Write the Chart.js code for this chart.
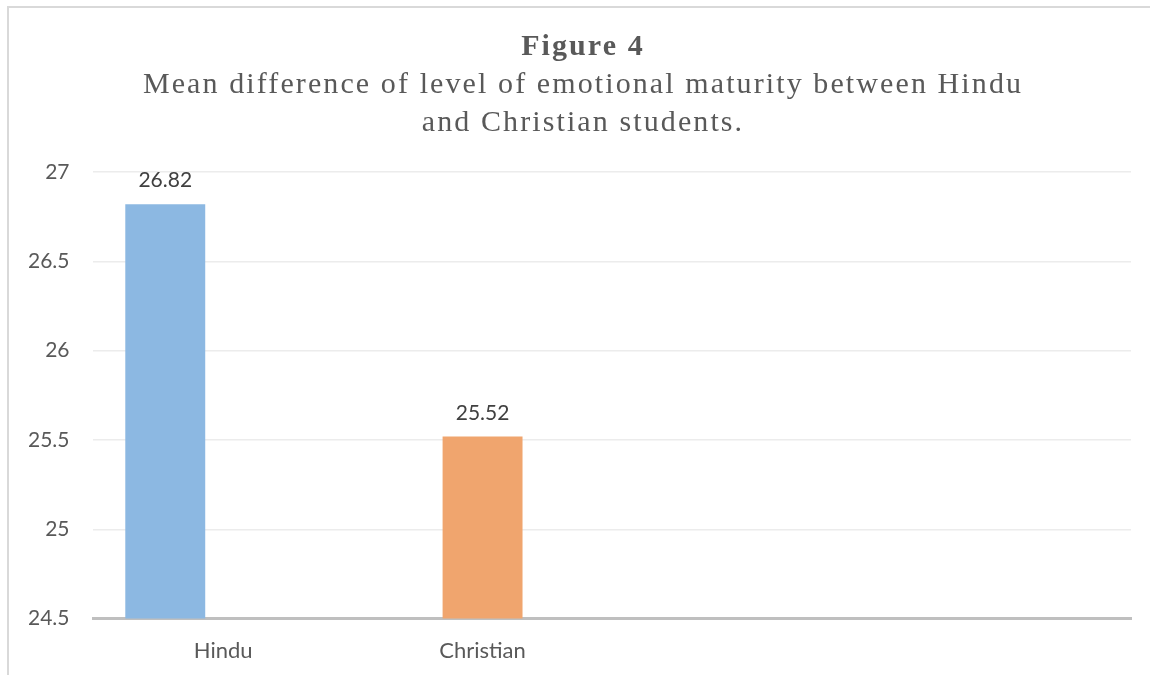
<!DOCTYPE html>
<html>
<head>
<meta charset="utf-8">
<script src="https://cdn.jsdelivr.net/npm/chart.js@4.4.1/dist/chart.umd.min.js"></script>
<style>
    html, body { margin: 0; padding: 0; background: #fff; }
    #frame {
        position: absolute; left: 7px; top: 6px; width: 1150px; height: 675px;
        border-top: 2px solid #d9d9d9; border-left: 2px solid #d9d9d9;
    }
    #heading {
        position: absolute; left: 8px; top: 26px; width: 1150px;
        text-align: center; font-family: "Liberation Serif", "Times New Roman", serif;
        color: #595959; font-size: 30px; line-height: 38px; letter-spacing: 2.1px;
    }
    #heading b { display: block; }
    #wrap { position: absolute; left: 0; top: 0; width: 1150px; height: 675px; }
</style>
</head>
<body>
<div id="frame"></div>
<div id="wrap"><canvas id="chart"></canvas></div>
<div id="heading"><b>Figure 4</b>Mean difference of level of emotional maturity between Hindu<br>and Christian students.</div>
<script>
const categories = ['Hindu', 'Christian', '', ''];
const hinduMeans = [26.82, null, null, null];
const christianMeans = [null, 25.52, null, null];
const emptySeries = [null, null, null, null];
const yTicks = [24.5, 25, 25.5, 26, 26.5, 27];

const labelFont = { family: 'Lato, "Open Sans", sans-serif', size: 21 };

// value labels above each bar
const valueLabels = {
    id: 'valueLabels',
    afterDatasetsDraw(chart) {
        const ctx = chart.ctx;
        ctx.save();
        ctx.font = `${labelFont.size}px ${labelFont.family}`;
        ctx.fillStyle = '#404040';
        ctx.textAlign = 'center';
        ctx.textBaseline = 'bottom';
        chart.data.datasets.forEach((ds, di) => {
            chart.getDatasetMeta(di).data.forEach((bar, i) => {
                const v = ds.data[i];
                if (v == null) return;
                ctx.fillText(v.toFixed(2), bar.x, bar.y - 13);
            });
        });
        ctx.restore();
    }
};

document.addEventListener('DOMContentLoaded', () => {
    const canvas = document.getElementById('chart');
    new Chart(canvas, {
        type: 'bar',
        data: {
            labels: categories,
            datasets: [
                { label: 'Hindu', data: hinduMeans, backgroundColor: '#8cb8e2' },
                { label: 'Christian', data: christianMeans, backgroundColor: '#f0a56e' },
                { label: '', data: emptySeries, backgroundColor: '#a5a5a5' }
            ]
        },
        options: {
            responsive: true,
            maintainAspectRatio: false,
            animation: false,
            categoryPercentage: 0.67,
            barPercentage: 1.38,
            layout: { padding: { top: 172, right: 19, left: 4, bottom: 0 } },
            scales: {
                x: {
                    grid: { display: false },
                    border: { color: '#bfbfbf', width: 3 },
                    ticks: { color: '#595959', font: { family: labelFont.family, size: 22 }, padding: 11 }
                },
                y: {
                    min: 24.5,
                    max: 27,
                    afterBuildTicks: axis => { axis.ticks = yTicks.map(v => ({ value: v })); },
                    grid: { color: '#ececec', lineWidth: 1.5, drawTicks: false },
                    border: { display: false },
                    ticks: { color: '#595959', font: labelFont, padding: 24, callback: v => String(v) }
                }
            },
            plugins: {
                legend: { display: false },
                tooltip: { enabled: false }
            }
        },
        plugins: [valueLabels]
    });
});
</script>
</body>
</html>
